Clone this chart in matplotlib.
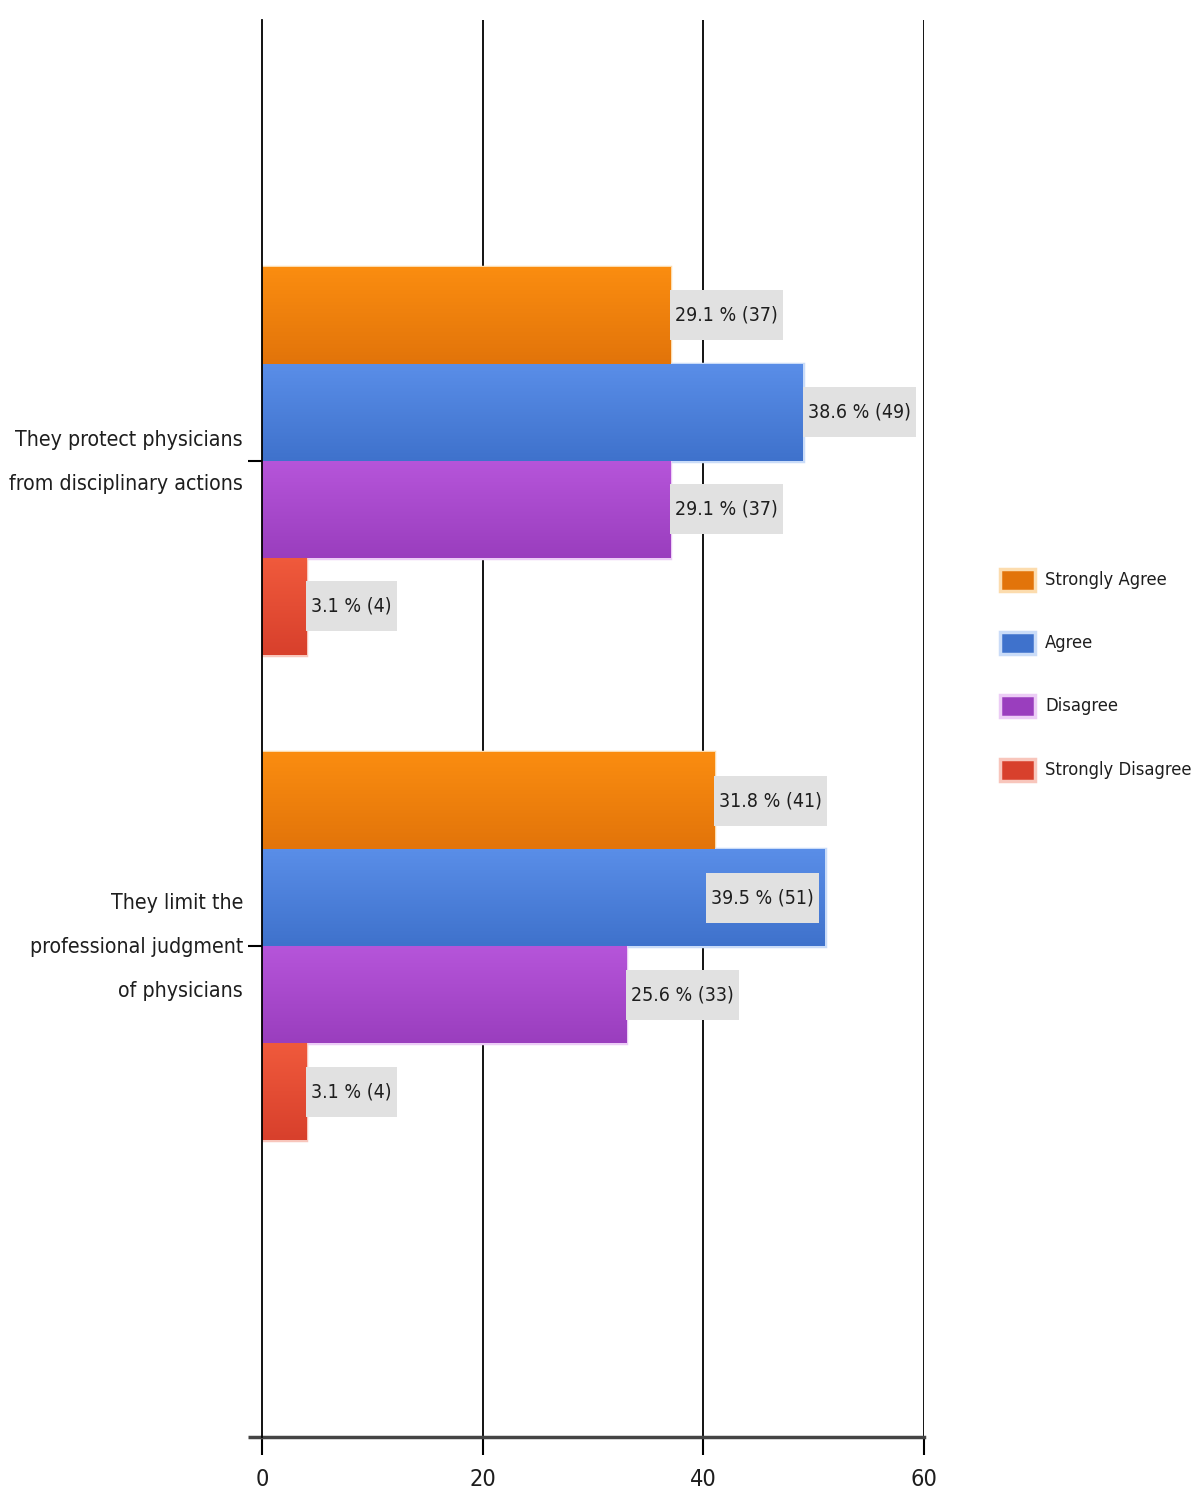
import matplotlib
matplotlib.use("Agg")
import matplotlib.pyplot as plt
import numpy as np
from matplotlib import font_manager
from matplotlib.colors import LinearSegmentedColormap
from matplotlib.patches import Rectangle
from matplotlib.transforms import IdentityTransform, ScaledTranslation, blended_transform_factory
from matplotlib.font_manager import FontProperties

# ---- data ----
categories = ["They protect physicians\nfrom disciplinary actions",
              "They limit the\nprofessional judgment\nof physicians"]
series = ["Strongly Agree", "Agree", "Disagree", "Strongly Disagree"]
counts = {
    "Strongly Agree":    [37, 41],
    "Agree":             [49, 51],
    "Disagree":          [37, 33],
    "Strongly Disagree": [4, 4],
}
percents = {
    "Strongly Agree":    [29.1, 31.8],
    "Agree":             [38.6, 39.5],
    "Disagree":          [29.1, 25.6],
    "Strongly Disagree": [3.1, 3.1],
}
xticks = [0, 20, 40, 60]

# ---- pick a narrow font if one is installed ----
names = {f.name for f in font_manager.fontManager.ttflist}
cond = {(f.name, f.stretch) for f in font_manager.fontManager.ttflist}
stretch = "normal"
if "Liberation Sans Narrow" in names:
    family = "Liberation Sans Narrow"
elif any(n == "DejaVu Sans" and s in ("condensed", "semi-condensed", 500, 600)
         for n, s in cond):
    family = "DejaVu Sans"
    stretch = "condensed"
elif "Roboto Condensed" in names:
    family = "Roboto Condensed"
else:
    family = "Liberation Sans"
plt.rcParams["font.family"] = [family, "DejaVu Sans"]
plt.rcParams["font.stretch"] = stretch

top_colors = {"Strongly Agree": "#fb8d10", "Agree": "#5a8ee8",
              "Disagree": "#b655da", "Strongly Disagree": "#f05a3c"}
bot_colors = {"Strongly Agree": "#e2740a", "Agree": "#3f72cc",
              "Disagree": "#9a3ebe", "Strongly Disagree": "#d8402c"}
edge_colors = {"Strongly Agree": "#fcdcae", "Agree": "#cadcf8",
               "Disagree": "#ecccf6", "Strongly Disagree": "#f8c6bc"}
TXT = "#1e1e1e"

W, H = 1198, 1500
fig = plt.figure(figsize=(W / 100, H / 100), dpi=100)
fig.patch.set_facecolor("white")
renderer = fig.canvas.get_renderer()


def size_for(text, target_px, ref=20.0):
    fp = FontProperties(family=[family, "DejaVu Sans"], stretch=stretch, size=ref)
    w, _, _ = renderer.get_text_width_height_descent(text, fp, ismath=False)
    return ref * target_px / w


FS_CAT = size_for("They protect physicians", 228)
FS_VAL = size_for("29.1 % (37)", 97) * 1.06
FS_LEG = size_for("Strongly Disagree", 146)
FS_TICK = FS_VAL * 1.2

ax = fig.add_axes([262 / W, (H - 1437) / H, (924 - 262) / W, (1437 - 20) / H])

bar_h = 0.2
offsets = [-0.3, -0.1, 0.1, 0.3]
ypos = np.arange(len(categories))

bar_records = []
for s, off in zip(series, offsets):
    bars = ax.barh(ypos + off, counts[s], height=bar_h,
                   color=bot_colors[s], edgecolor=edge_colors[s],
                   linewidth=2.5, zorder=3)
    cmap = LinearSegmentedColormap.from_list(s, [top_colors[s], bot_colors[s]])
    for b, cnt, pct in zip(bars, counts[s], percents[s]):
        x0, y0 = b.get_x(), b.get_y()
        w, h = b.get_width(), b.get_height()
        grad = np.linspace(0, 1, 64).reshape(-1, 1)
        im = ax.imshow(grad, cmap=cmap, aspect="auto", zorder=3.1,
                       extent=(x0, x0 + w, y0 + h, y0), interpolation="bicubic")
        im.set_clip_path(b)
        bar_records.append((cnt, y0 + h / 2, f"{pct} % ({cnt})"))

ax.set_xlim(0, 60)
ax.set_ylim(2.012, -0.909)

# grid and axes
ax.set_xticks(xticks)
ax.set_xticklabels([str(t) for t in xticks])
for t in xticks[1:]:
    ax.axvline(t, color="black", lw=1.3, zorder=1)
ax.set_yticks(ypos)
ax.set_yticklabels([])
# category labels, right-aligned just left of the tick marks
cat_tr = blended_transform_factory(ax.transAxes, ax.transData) + \
    ScaledTranslation(-19 / 100, -1 / 100, fig.dpi_scale_trans)
for yv, cat in zip(ypos, categories):
    ax.text(0, yv, cat, transform=cat_tr, ha="right", va="center",
            multialignment="right", fontsize=FS_CAT, linespacing=2.5,
            color=TXT, clip_on=False)
ax.tick_params(axis="y", length=10, width=1.5, pad=4, color="black")
ax.tick_params(axis="x", length=13, width=1.5, pad=9, labelsize=FS_TICK,
               labelcolor=TXT, color="black")
for side in ["top", "right"]:
    ax.spines[side].set_visible(False)
ax.spines["left"].set_color("black")
ax.spines["left"].set_linewidth(1.3)
ax.spines["left"].set_zorder(5)
ax.spines["bottom"].set_color("#444444")
ax.spines["bottom"].set_linewidth(2.5)
ax.plot([-14 / 662, 0], [0, 0], transform=ax.transAxes, color="#444444",
        lw=2.5, clip_on=False, solid_capstyle="butt")

# value labels with grey boxes
fig.canvas.draw()
to_pix = ax.transData
xmax_pix = to_pix.transform((60, 0))[0]
for cnt, yc, label in bar_records:
    bx, by = to_pix.transform((cnt, yc))
    t = ax.text(bx + 5, by, label, fontsize=FS_VAL, color=TXT, va="center",
                ha="left", zorder=8, transform=IdentityTransform(),
                clip_on=False)
    ext = t.get_window_extent(renderer)
    box_w = ext.width + 10
    box_h = 50
    if bx + box_w > xmax_pix:
        left = bx - box_w - 6
        t.set_position((left + 5, by))
    else:
        left = bx
    ax.add_patch(Rectangle((left, by - box_h / 2), box_w, box_h,
                           transform=IdentityTransform(), clip_on=False,
                           facecolor="#e1e1e1", edgecolor="none", zorder=7))

# legend
leg_y = [580, 643, 706, 770]
for s, y in zip(series, leg_y):
    fig.add_artist(Rectangle((1000 / W, (H - y - 11) / H), 35 / W, 22 / H,
                             transform=fig.transFigure,
                             facecolor=bot_colors[s],
                             edgecolor=edge_colors[s], linewidth=2.5))
    fig.text(1045 / W, (H - y) / H, s, fontsize=FS_LEG, color=TXT,
             va="center", ha="left")

fig.savefig("out.png", dpi=100, facecolor="white")
